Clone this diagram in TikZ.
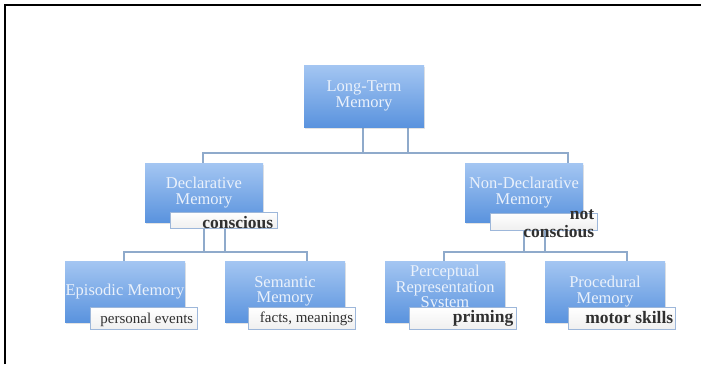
\documentclass[tikz,border=0pt]{standalone}
\usepackage{fontspec}
\setmainfont{Liberation Serif}
\usetikzlibrary{shadows,backgrounds}
\definecolor{boxtop}{HTML}{A4C6F2}
\definecolor{boxbot}{HTML}{5A93DE}
\definecolor{conncol}{HTML}{8FAACB}
\definecolor{lblborder}{HTML}{9DB7DA}
\definecolor{boxtext}{HTML}{EAF1FB}
\definecolor{lbltext}{HTML}{303030}
\begin{document}
\begin{tikzpicture}[x=1pt,y=-1pt,
  membox/.style={rectangle, top color=boxtop, bottom color=boxbot, draw=none,
    minimum width=120pt, minimum height=61pt, inner sep=0pt, text=boxtext,
    align=center, font=\fontsize{16.5}{15.5}\selectfont,
    drop shadow={opacity=0.22,shadow xshift=0.6pt,shadow yshift=-2pt}},
  lbl/.style={rectangle, draw=lblborder, line width=0.9pt, top color=white,
    bottom color=black!6, minimum width=107pt, minimum height=16pt, inner sep=0pt},
  lbltxt/.style={text=lbltext, font=\fontsize{17.5}{18}\selectfont\bfseries,
    inner sep=0pt, anchor=east, align=right},
  lbltxtsm/.style={text=lbltext, font=\fontsize{15}{15}\selectfont,
    inner sep=0pt, anchor=east},
  conn/.style={draw=conncol, line width=1.3pt}]
\useasboundingbox (0,0) rectangle (701,364);

% memory boxes
\node[membox, minimum height=62pt] (ltm) at (364,96) {Long-Term\\Memory};
\node[membox, minimum width=118pt, minimum height=59pt] (decl) at (204,192.5) {Declarative\\Memory};
\node[membox, minimum width=118pt, minimum height=59pt] (nondecl) at (524,192.5) {Non-Declarative\\Memory};
\node[membox] (epi) at (125,291.5) {Episodic Memory};
\node[membox] (sem) at (285,291.5) {Semantic\\Memory};
\node[membox] (perc) at (445,291.5) {Perceptual\\Representation\\System\\[-6pt]\mbox{}};
\node[membox] (proc) at (605,291.5) {Procedural\\Memory};

% label boxes
\node[lbl] (lblC) at (223.5,220) {};
\node[lbl, minimum height=17pt] (lblN) at (543.5,221.5) {};
\node[lbl, minimum height=22pt] (lblE) at (143.5,318) {};
\node[lbl, minimum height=22pt] (lblS) at (301.5,318) {};
\node[lbl, minimum height=22pt] (lblP) at (462.5,318) {};
\node[lbl, minimum height=22pt] (lblM) at (621.5,318) {};

% label texts
\node[lbltxt] (tC) at ([xshift=-4pt,yshift=-3pt]lblC.east) {conscious};
\node[lbltxt] (tN) at ([xshift=-3pt,yshift=-2.5pt]lblN.east) {not\\conscious};
\node[lbltxtsm] (tE) at ([xshift=-4pt,yshift=-2pt]lblE.east) {personal events};
\node[lbltxtsm] (tS) at ([xshift=-2pt,yshift=-1pt]lblS.east) {facts, meanings};
\node[lbltxt] (tP) at ([xshift=-3pt]lblP.east) {priming};
\node[lbltxt] (tM) at ([xshift=-2pt]lblM.east) {motor skills};

% connectors and frame
\coordinate (busA) at (0,153);
\coordinate (busB) at (0,252);
\begin{pgfonlayer}{background}
\fill[white] (0,0) rectangle (701,364);
\draw[line width=1.6pt, black] (5,364) -- (5,5) -- (701,5);
\draw[conn] ([xshift=-1pt]ltm.south) -- ([xshift=-1pt]ltm.south |- busA);
\draw[conn] ([xshift=44pt]ltm.south) -- ([xshift=44pt]ltm.south |- busA);
\draw[conn] ([xshift=-1pt]decl.north) |- ([xshift=44pt]nondecl.north |- busA) -- ([xshift=44pt]nondecl.north);
\draw[conn] (decl.south) -- (decl.south |- busB);
\draw[conn] ([xshift=21pt]decl.south) -- ([xshift=21pt]decl.south |- busB);
\draw[conn] ([xshift=-1pt]epi.north) |- ([xshift=22pt]sem.north |- busB) -- ([xshift=22pt]sem.north);
\draw[conn] (nondecl.south) -- (nondecl.south |- busB);
\draw[conn] ([xshift=21pt]nondecl.south) -- ([xshift=21pt]nondecl.south |- busB);
\draw[conn] ([xshift=-1pt]perc.north) |- ([xshift=22pt]proc.north |- busB) -- ([xshift=22pt]proc.north);
\end{pgfonlayer}
\end{tikzpicture}
\end{document}
